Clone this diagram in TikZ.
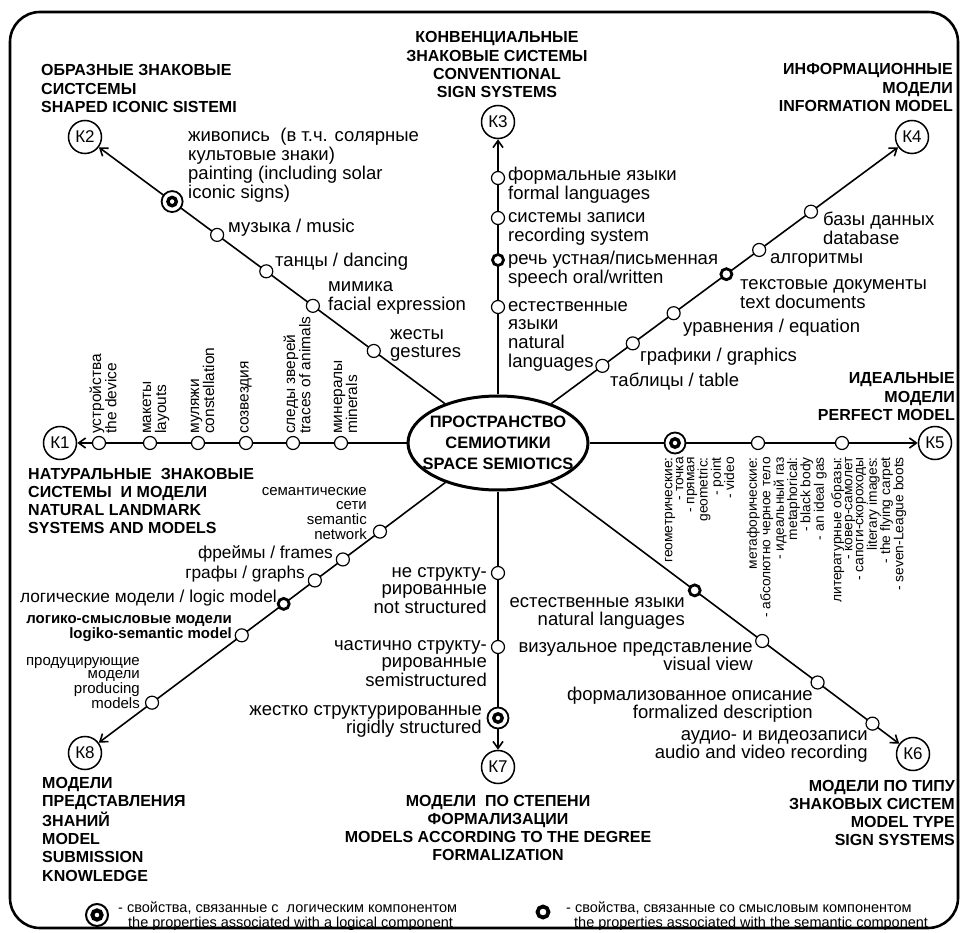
\documentclass[tikz,border=0pt]{standalone}
\usepackage{fontspec}
\setmainfont{Liberation Sans}
\usetikzlibrary{shapes.geometric, arrows.meta, calc}
\newcommand{\TxL}[1]{\begin{tabular}[t]{@{}l@{}}#1\end{tabular}}
\newcommand{\TxR}[1]{\begin{tabular}[t]{@{}r@{}}#1\end{tabular}}
\newcommand{\TxC}[1]{\begin{tabular}[t]{@{}c@{}}#1\end{tabular}}
\begin{document}
\begin{tikzpicture}[x=1pt, y=-1pt,
  axis/.style={line width=1.6pt},
  arr/.style={-{Straight Barb[length=7pt,width=10pt]}},
  kc/.style={circle, draw, fill=white, line width=1.5pt, minimum size=33pt, inner sep=0pt, font=\fontsize{17}{17}\selectfont},
  sc/.style={circle, draw, fill=white, line width=1.2pt, minimum size=13pt, inner sep=0pt},
  semc/.style={circle, draw, fill=white, line width=2.8pt, minimum size=11pt, inner sep=0pt},
  logc/.style={circle, draw, fill=white, line width=1.8pt, minimum size=21pt, inner sep=0pt,
    path picture={\draw[line width=3.4pt] (path picture bounding box.center) circle[radius=4.2pt];}},
  lab/.style={inner sep=0pt, font=\fontsize{18.5}{17.8}\selectfont},
  labb/.style={inner sep=0pt, font=\fontsize{17.3}{17.3}\selectfont},
  sml/.style={inner sep=0pt, font=\fontsize{15}{13.3}\selectfont},
  smlb/.style={inner sep=0pt, font=\bfseries\fontsize{15}{15}\selectfont},
  ttl/.style={inner sep=0pt, font=\bfseries\fontsize{16}{18.3}\selectfont},
  vlab/.style={inner sep=0pt, rotate=90, anchor=west, font=\fontsize{15.5}{13}\selectfont},
  rlab/.style={inner sep=0pt, rotate=90, anchor=east, font=\fontsize{13.8}{11}\selectfont},
  leg/.style={inner sep=0pt, font=\fontsize{14.5}{15}\selectfont}]

\fill[white] (0,0) rectangle (962,933);
\useasboundingbox (0,0) rectangle (962,933);
\draw[line width=2.6pt, rounded corners=30pt] (10,12) rectangle (958,928);

% centre and category nodes
\node[ellipse, draw, line width=3pt, minimum width=180pt, minimum height=94pt, inner sep=0pt] (E) at (498,443) {};
\node[inner sep=0pt, align=center, font=\bfseries\fontsize{16.5}{21}\selectfont] (Et) at (498,443) {ПРОСТРАНСТВО\\СЕМИОТИКИ\\SPACE SEMIOTICS};
\node[kc] (K1) at (60,443) {К1};
\node[kc] (K2) at (85,137) {К2};
\node[kc] (K3) at (498,122) {К3};
\node[kc] (K4) at (912,137) {К4};
\node[kc] (K5) at (935,443) {К5};
\node[kc] (K6) at (913,754) {К6};
\node[kc] (K7) at (498,767) {К7};
\node[kc] (K8) at (85,753) {К8};

% axes
\foreach \k in {K1,K2,K3,K4,K5,K6,K7,K8}{\draw[axis, arr] (E) -- (\k);}

% K1 axis
\foreach \n/\x in {a1/99, a2/150, a3/198, a4/246, a5/293, a6/341}{\node[sc] (\n) at (\x,443) {};}
% K2 axis
\node[logc] (b1) at ($(E.center)!(171,203)!(K2.center)$) {};
\node[sc] (b2) at ($(E.center)!(217,235)!(K2.center)$) {};
\node[sc] (b3) at ($(E.center)!(265,273)!(K2.center)$) {};
\node[sc] (b4) at ($(E.center)!(312,307)!(K2.center)$) {};
\node[sc] (b5) at ($(E.center)!(373,352)!(K2.center)$) {};
% K3 axis
\node[sc] (c1) at (498,178) {};
\node[sc] (c2) at (498,218) {};
\node[semc] (c3) at (498,260) {};
\node[sc] (c4) at (498,307) {};
% K4 axis
\node[sc] (d1) at ($(E.center)!(812,213)!(K4.center)$) {};
\node[sc] (d2) at ($(E.center)!(760,251)!(K4.center)$) {};
\node[semc] (d3) at ($(E.center)!(727,275)!(K4.center)$) {};
\node[sc] (d4) at ($(E.center)!(675,315)!(K4.center)$) {};
\node[sc] (d5) at ($(E.center)!(634,345)!(K4.center)$) {};
\node[sc] (d6) at ($(E.center)!(604,368)!(K4.center)$) {};
% K5 axis
\node[logc] (e1) at (675,443) {};
\node[sc] (e2) at (758,443) {};
\node[sc] (e3) at (842,443) {};
% K6 axis
\node[semc] (f1) at ($(E.center)!(695,590)!(K6.center)$) {};
\node[sc] (f2) at ($(E.center)!(763,640)!(K6.center)$) {};
\node[sc] (f3) at ($(E.center)!(818,682)!(K6.center)$) {};
\node[sc] (f4) at ($(E.center)!(873,723)!(K6.center)$) {};
% K7 axis
\node[sc] (g1) at (498,573) {};
\node[sc] (g2) at (498,647) {};
\node[logc] (g3) at (498,718) {};
% K8 axis
\node[sc] (h1) at ($(E.center)!(378,529)!(K8.center)$) {};
\node[sc] (h2) at ($(E.center)!(341,557)!(K8.center)$) {};
\node[sc] (h3) at ($(E.center)!(313,578)!(K8.center)$) {};
\node[semc] (h4) at ($(E.center)!(283,603)!(K8.center)$) {};
\node[sc] (h5) at ($(E.center)!(240,633)!(K8.center)$) {};
\node[sc] (h6) at ($(E.center)!(150,700)!(K8.center)$) {};

% titles
\node[ttl, anchor=base west] (t2) at (41,76) {\TxL{ОБРАЗНЫЕ ЗНАКОВЫЕ\\СИСТСЕМЫ\\SHAPED ICONIC SISTEMI}};
\node[ttl, anchor=base] (t3) at (497,43) {\TxC{КОНВЕНЦИАЛЬНЫЕ\\ЗНАКОВЫЕ СИСТЕМЫ\\CONVENTIONAL\\SIGN SYSTEMS}};
\node[ttl, anchor=base east] (t4) at (953,75) {\TxR{ИНФОРМАЦИОННЫЕ\\МОДЕЛИ\\INFORMATION MODEL}};
\node[ttl, anchor=base east] (t5) at (955,384) {\TxR{ИДЕАЛЬНЫЕ\\МОДЕЛИ\\PERFECT MODEL}};
\node[ttl, anchor=base west] (t1) at (28,479) {\TxL{НАТУРАЛЬНЫЕ\ \ ЗНАКОВЫЕ\\СИСТЕМЫ\ \ И МОДЕЛИ\\NATURAL LANDMARK\\SYSTEMS AND MODELS}};
\node[ttl, anchor=base west] (t8) at (42,788) {\TxL{МОДЕЛИ\\ПРЕДСТАВЛЕНИЯ\\ЗНАНИЙ\\MODEL\\SUBMISSION\\KNOWLEDGE}};
\node[ttl, anchor=base] (t7) at (498,806) {\TxC{МОДЕЛИ\ \ ПО СТЕПЕНИ\\ФОРМАЛИЗАЦИИ\\MODELS ACCORDING TO THE DEGREE\\FORMALIZATION}};
\node[ttl, anchor=base east] (t6) at (955,791) {\TxR{МОДЕЛИ ПО ТИПУ\\ЗНАКОВЫХ СИСТЕМ\\MODEL TYPE\\SIGN SYSTEMS}};

% K1 labels
\node[vlab] (v1) at (105,434) {\TxL{устройства\\the device}};
\node[vlab] (v2) at (156,434) {\TxL{макеты\\layouts}};
\node[vlab] (v3) at (204,434) {\TxL{муляжи\\constellation}};
\node[vlab] (v4) at (246,434) {\TxL{созвездия}};
\node[vlab] (v5) at (299,434) {\TxL{следы зверей\\traces of animals}};
\node[vlab] (v6) at (347,434) {\TxL{минералы\\minerals}};

% K2 labels
\node[lab, anchor=base west] (l21) at (188,142) {\TxL{живопись\ \ (в т.ч. солярные\\культовые знаки)\\painting (including solar\\iconic signs)}};
\node[lab, anchor=base west] (l22) at (228,233) {\TxL{музыка / music}};
\node[lab, anchor=base west] (l23) at (275,267) {\TxL{танцы / dancing}};
\node[lab, anchor=base west] (l24) at (328,292) {\TxL{мимика\\facial expression}};
\node[lab, anchor=base west] (l25) at (390,340) {\TxL{жесты\\gestures}};

% K3 labels
\node[lab, anchor=base west] (l31) at (508,181) {\TxL{формальные языки\\formal languages}};
\node[lab, anchor=base west] (l32) at (508,223) {\TxL{системы записи\\recording system}};
\node[lab, anchor=base west] (l33) at (508,265) {\TxL{речь устная/письменная\\speech oral/written}};
\node[lab, anchor=base west] (l34) at (508,312) {\TxL{естественные\\языки\\natural\\languages}};

% K4 labels
\node[lab, anchor=base west] (l41) at (823,226) {\TxL{базы данных\\database}};
\node[lab, anchor=base west] (l42) at (770,264) {\TxL{алгоритмы}};
\node[lab, anchor=base west] (l43) at (740,290) {\TxL{текстовые документы\\text documents}};
\node[lab, anchor=base west] (l44) at (683,333) {\TxL{уравнения / equation}};
\node[lab, anchor=base west] (l45) at (640,362) {\TxL{графики / graphics}};
\node[lab, anchor=base west] (l46) at (610,387) {\TxL{таблицы / table}};

% K5 labels
\node[rlab] (r1) at (701,457) {\TxR{геометрические:\\- точка\\- прямая\\geometric:\\- point\\- video}};
\node[rlab] (r2) at (787,457) {\TxR{метафорические:\\- абсолютно черное тело\\- идеальный газ\\metaphorical:\\- black body\\- an ideal gas}};
\node[rlab] (r3) at (869,457) {\TxR{литературные образы:\\- ковер-самолет\\- сапоги-скороходы\\literary images:\\- the flying carpet\\- seven-League boots}};

% K6 labels
\node[lab, anchor=base east] (l61) at (685,607) {\TxR{естественные языки\\natural languages}};
\node[lab, anchor=base east] (l62) at (753,652) {\TxR{визуальное представление\\visual view}};
\node[lab, anchor=base east] (l63) at (813,700) {\TxR{формализованное описание\\formalized description}};
\node[lab, anchor=base east] (l64) at (868,740) {\TxR{аудио- и видеозаписи\\audio and video recording}};

% K7 labels
\node[lab, anchor=base east] (l71) at (487,577) {\TxR{не структу-\\рированные\\not structured}};
\node[lab, anchor=base east] (l72) at (487,650) {\TxR{частично структу-\\рированные\\semistructured}};
\node[lab, anchor=base east] (l73) at (482,715) {\TxR{жестко структурированные\\rigidly structured}};

% K8 labels
\node[sml, anchor=base east] (l81) at (367,496) {\TxR{семантические\\сети\\semantic\\network}};
\node[labb, anchor=base east] (l82) at (333,558) {\TxR{фреймы / frames}};
\node[labb, anchor=base east] (l83) at (305,578) {\TxR{графы / graphs}};
\node[labb, anchor=base east] (l84) at (277,602) {\TxR{логические модели / logic model}};
\node[smlb, anchor=base east] (l85) at (232,623) {\TxR{логико-смысловые модели\\logiko-semantic model}};
\node[sml, anchor=base east] (l86) at (140,665) {\TxR{продуцирующие\\модели\\producing\\models}};

% legend
\node[logc, minimum size=22pt, line width=2pt, path picture={\draw[line width=4pt] (path picture bounding box.center) circle[radius=4.6pt];}] (lg1) at (97,915) {};
\node[leg, anchor=base west] (lt1) at (118,912) {\TxL{- свойства, связанные с\ \ логическим компонентом\\\hspace{10pt}the properties associated with a logical component}};
\node[semc, minimum size=11pt, line width=3.8pt] (lg2) at (543,912) {};
\node[leg, anchor=base west] (lt2) at (566,912) {\TxL{- свойства, связанные со смысловым компонентом\\\hspace{8pt}the properties associated with the semantic component}};
\end{tikzpicture}
\end{document}
